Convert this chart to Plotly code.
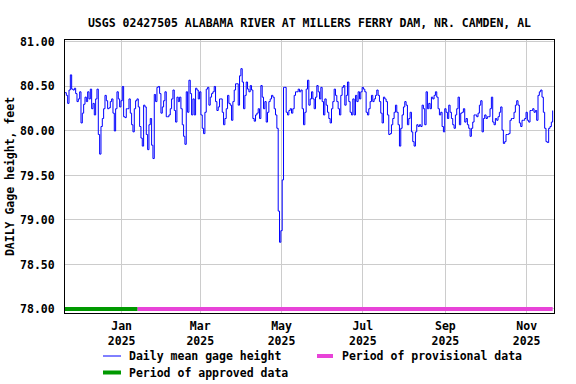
import pandas as pd
import plotly.graph_objects as go

title_text = "USGS 02427505 ALABAMA RIVER AT MILLERS FERRY DAM, NR. CAMDEN, AL"
y_title = "DAILY Gage height, feet"
start_date = "2024-11-19 12:00"

gage_height = [
    80.43, 80.40, 80.31, 80.46, 80.63, 80.47, 80.46, 80.48, 80.42, 80.33,
    80.36, 80.44, 80.09, 80.20, 80.30, 80.38, 80.33, 80.44, 80.36, 80.47,
    80.25, 80.31, 80.18, 80.36, 80.47, 79.96, 79.74, 80.05, 80.14, 80.25,
    80.40, 80.34, 80.25, 80.26, 80.33, 80.36, 80.20, 80.00, 80.25, 80.44,
    80.36, 80.27, 80.34, 80.50, 80.16, 80.15, 80.25, 80.25, 80.36, 80.20,
    80.07, 79.99, 80.25, 80.34, 80.36, 80.27, 80.05, 79.92, 79.83, 80.29,
    80.27, 79.96, 79.79, 80.07, 80.14, 79.84, 79.69, 80.41, 80.33, 80.49,
    80.50, 80.42, 80.20, 80.27, 80.34, 80.44, 80.16, 80.16, 80.18, 80.25,
    80.36, 80.46, 80.23, 80.10, 80.38, 80.33, 80.38, 80.25, 80.07, 79.94,
    79.85,
    80.44, 80.21, 80.57, 80.42, 80.18, 80.36, 80.18, 80.48, 80.46, 80.36,
    80.44, 80.18, 80.03, 79.97, 80.21, 80.47, 80.49, 80.29, 80.38, 80.42,
    80.44, 80.50, 80.33, 80.23, 80.27, 80.36, 80.36, 80.21, 80.07, 80.14,
    80.25, 80.40, 80.31, 80.29, 80.12, 80.33, 80.46, 80.53, 80.53, 80.29,
    80.62, 80.70, 80.55, 80.25, 80.40, 80.55, 80.47, 80.44, 80.51, 80.46,
    80.14, 80.11, 80.18, 80.20, 80.25, 80.14, 80.51, 80.38, 80.25, 80.33,
    80.10, 80.21, 80.33, 80.36, 80.40, 80.38, 80.25, 80.18, 80.03,
    79.10, 78.75, 78.88, 79.45,
    80.49, 80.49, 80.21, 80.18, 80.23, 80.25, 80.20, 80.25, 80.40, 80.44,
    80.44, 80.47, 80.44, 80.46, 80.25, 80.07, 80.21, 80.47, 80.57,
    80.29, 80.36, 80.44, 80.36, 80.25, 80.38, 80.51, 80.44, 80.36, 80.49,
    80.33, 80.18, 80.36, 80.29, 80.21, 80.14, 80.09, 80.25, 80.33, 80.47,
    80.40, 80.33, 80.25, 80.18, 80.40, 80.49, 80.51, 80.29, 80.40, 80.55,
    80.33, 80.21, 80.18, 80.36, 80.18, 80.40, 80.33, 80.44, 80.36, 80.44,
    80.49, 80.47, 80.44, 80.21, 80.18, 80.25, 80.33, 80.40, 80.33, 80.36,
    80.40, 80.46, 80.40, 80.33, 80.20, 80.09, 80.38, 80.36, 80.33, 80.18,
    79.96, 79.97, 80.07, 80.14, 80.21, 80.29, 80.21, 80.07, 79.83, 80.03,
    80.18, 80.27, 80.33, 80.29, 80.07, 80.14, 80.21, 79.99, 79.88, 79.83,
    79.99, 80.07, 80.05, 80.07, 80.05, 80.29, 80.25, 80.07, 80.44, 80.25,
    80.31, 80.25,
    80.38, 80.36, 80.40, 80.44, 80.38, 80.25, 80.18, 80.21, 80.05, 79.99,
    80.25, 80.21, 80.14, 80.29, 80.21, 80.14, 80.07, 80.03, 80.18, 80.25,
    80.38, 80.07, 80.20, 80.21, 80.25, 80.10, 80.14, 80.07, 80.03, 79.94,
    80.03, 80.10, 80.18, 80.18, 80.16, 80.20, 80.29, 80.34, 79.99, 80.14,
    80.18, 80.14, 80.16, 80.16, 80.25, 80.38, 80.10, 80.07, 80.14, 80.12,
    80.16, 80.21, 80.27, 80.01, 79.86, 79.88, 79.96, 79.96, 79.97, 80.12,
    80.14, 80.14, 80.21, 80.29, 80.34, 80.29, 80.09, 80.05, 80.12, 80.12,
    80.14, 80.21, 80.12, 80.10, 80.23, 80.23, 80.25, 80.21, 80.23, 80.12,
    80.40, 80.44, 80.46, 80.38, 80.21, 80.03, 79.88, 79.87, 80.03, 80.05,
    80.10, 80.23,
]

approved_start = "2024-11-19 12:00"
approved_end = "2025-01-13 00:00"
provisional_start = "2025-01-13 00:00"
period_level = 78.0

x_range = ["2024-11-19 12:00", "2025-11-21 12:00"]
x_tick_dates = ["2025-01-01", "2025-03-01", "2025-05-01", "2025-07-01", "2025-09-01", "2025-11-01"]
x_tick_labels = ["Jan<br>2025", "Mar<br>2025", "May<br>2025", "Jul<br>2025", "Sep<br>2025", "Nov<br>2025"]
y_range = [77.955, 81.022]
y_tick_values = [78.0, 78.5, 79.0, 79.5, 80.0, 80.5, 81.0]
y_tick_labels = ["78.00", "78.50", "79.00", "79.50", "80.00", "80.50", "81.00"]

legend_names = ["Daily mean gage height", "Period of provisional data", "Period of approved data"]
colors = {"daily": "#0000ff", "provisional": "#e843d8", "approved": "#009900"}

dates = pd.date_range(start=start_date, periods=len(gage_height), freq="D")
provisional_end = dates[-1]

FONT = dict(family="DejaVu Sans Mono, Liberation Mono, monospace", size=11.5, color="black", weight=700)

fig = go.Figure()
fig.add_trace(go.Scatter(x=[approved_start, approved_end], y=[period_level, period_level],
                         mode="lines", line=dict(color=colors["approved"], width=4),
                         name=legend_names[2], showlegend=False, hoverinfo="skip"))
fig.add_trace(go.Scatter(x=[provisional_start, provisional_end], y=[period_level, period_level],
                         mode="lines", line=dict(color=colors["provisional"], width=4),
                         name=legend_names[1], showlegend=False, hoverinfo="skip"))
fig.add_trace(go.Scatter(x=dates, y=gage_height, mode="lines",
                         line=dict(color=colors["daily"], width=1, shape="hv"),
                         name=legend_names[0], showlegend=False))

L, R, T, B = 65, 22, 40, 71
W, H = 576, 384
pw, ph = W - L - R, H - T - B

def px_x(p):
    return (p - L) / pw

def px_y(p):
    return (H - B - p) / ph

# manual legend (below plot)
legend_items = [
    (legend_names[0], colors["daily"], 1, 103, 121, 127, 356),
    (legend_names[1], colors["provisional"], 4, 317, 333, 340, 356),
    (legend_names[2], colors["approved"], 4, 103, 121, 127, 372.5),
]
for name, col, lw, x0, x1, xt, yy in legend_items:
    fig.add_shape(type="line", xref="paper", yref="paper",
                  x0=px_x(x0), x1=px_x(x1), y0=px_y(yy), y1=px_y(yy),
                  line=dict(color=col, width=lw))
    fig.add_annotation(xref="paper", yref="paper", x=px_x(xt), y=px_y(yy),
                       text=name, showarrow=False, xanchor="left", yanchor="middle",
                       font=FONT)

fig.update_layout(
    width=W, height=H,
    margin=dict(l=L, r=R, t=T, b=B, autoexpand=False),
    paper_bgcolor="white", plot_bgcolor="white",
    font=FONT,
    title=dict(text=title_text, x=309.5 / W, xanchor="center", y=1 - 22.5 / H, yanchor="middle",
               font=FONT, automargin=False),
    showlegend=False,
)
fig.update_xaxes(type="date", range=x_range, tickmode="array", tickvals=x_tick_dates,
                 ticktext=x_tick_labels, showgrid=True, gridcolor="#cccccc", gridwidth=1,
                 showline=True, linecolor="black", linewidth=1, mirror=True, automargin=False,
                 ticks="", ticklabelstandoff=2, tickfont=FONT, zeroline=False)
fig.update_yaxes(range=y_range, tickmode="array", tickvals=y_tick_values, ticktext=y_tick_labels,
                 showgrid=True, gridcolor="#cccccc", gridwidth=1, automargin=True,
                 showline=True, linecolor="black", linewidth=1, mirror=True,
                 ticks="", ticklabelstandoff=7, tickfont=FONT, zeroline=False,
                 title=dict(text=y_title, font=FONT, standoff=3))

fig.write_html("out.html", config={"displayModeBar": False},
               post_script="document.body.style.margin='0';document.body.style.overflow='hidden';")
